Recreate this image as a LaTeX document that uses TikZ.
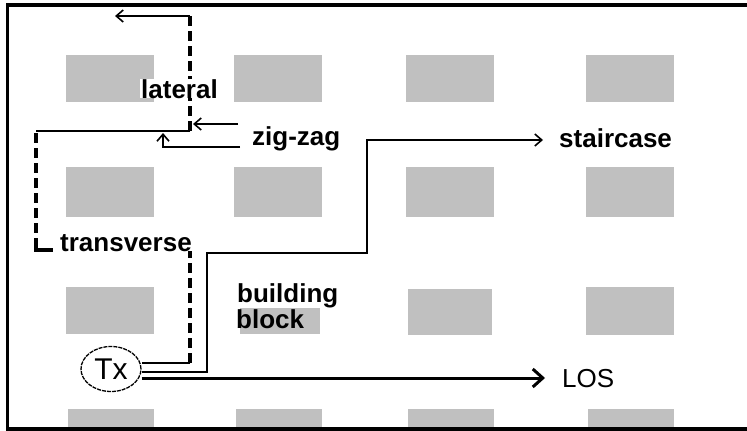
\documentclass[tikz,border=0pt]{standalone}
\usepackage{fontspec}
\setmainfont{Liberation Sans}
\usetikzlibrary{arrows.meta,shapes.geometric}
\definecolor{blockgray}{HTML}{C0C0C0}
\begin{document}
\begin{tikzpicture}[x=1pt,y=-1pt,
  blk/.style={fill=blockgray,draw=none},
  lbl/.style={font=\fontsize{26}{30}\selectfont\bfseries,inner sep=0pt,anchor=base west},
  lblw/.style={lbl,fill=white,inner xsep=1pt},
  thinpath/.style={line width=1.6pt},
  dashpath/.style={line width=4.5pt,dash pattern=on 10pt off 5pt},
  barb/.style={-{Straight Barb[length=7pt,width=12pt]}},
  bigbarb/.style={-{Straight Barb[length=10pt,width=18pt]}},
]
\useasboundingbox (0,0) rectangle (747,431);
\begin{scope}
\clip (0,0) rectangle (747,431);
% blocks
\foreach \xa/\xb in {66/154,234/322,406/494,586/674}{
  \fill[blockgray] (\xa,55) rectangle (\xb,102);
  \fill[blockgray] (\xa,167) rectangle (\xb,217);
}
\fill[blockgray] (66,287) rectangle (154,334);
\fill[blockgray] (240,287) rectangle (320,334);
\fill[blockgray] (408,289) rectangle (492,335);
\fill[blockgray] (586,287) rectangle (674,335);
\foreach \xa/\xb in {68/154,236/322,408/494,588/674}{
  \fill[blockgray] (\xa,409) rectangle (\xb,440);
}
% frame
\draw[line width=3.5pt] (770,5) -- (7.5,5) -- (7.5,429) -- (770,429);
\end{scope}

% coordinates
\coordinate (latTop) at (190,16);
\coordinate (latEnd) at (115,16);
\coordinate (latBot) at (190,131);
\coordinate (trTop) at (36,131);
\coordinate (trDash) at (36,133);
\coordinate (trDashEnd) at (36,240);
\coordinate (trCorner) at (36,250);
\coordinate (trFoot) at (53,250);
\coordinate (zzA) at (238,124);
\coordinate (zzAend) at (193,124);
\coordinate (zzB) at (240,147);
\coordinate (zzBbend) at (163,147);
\coordinate (zzBend) at (163,133);
\coordinate (tvTop) at (190,248);
\coordinate (tvBot) at (190,363);
\coordinate (st1) at (207,372);
\coordinate (st2) at (207,253);
\coordinate (st3) at (367,253);
\coordinate (st4) at (367,140);
\coordinate (stEnd) at (543,140);
\coordinate (losEnd) at (545,378);

% transmitter
\node[ellipse,draw,line width=1.3pt,dash pattern=on 4pt off 1pt,minimum width=60pt,minimum height=45pt,inner sep=0pt,
  font=\fontsize{30}{34}\selectfont] (Tx) at (111,369) {Tx};

% lateral
\draw[dashpath] (latTop) -- (latBot);
\draw[thinpath,barb] (latTop) -- (latEnd);
% zig-zag
\draw[thinpath,barb] (zzA) -- (zzAend);
\draw[thinpath,barb] (zzB) -- (zzBbend) -- (zzBend);
% transverse
\draw[thinpath] (latBot) -- (trTop);
\draw[dashpath] (trDash) -- (trDashEnd);
\draw[line width=4.5pt] (trDashEnd) -- (trCorner) -- (trFoot);
\draw[dashpath] (tvTop) -- (tvBot);
\draw[thinpath] (tvBot) -- (tvBot -| Tx.east);
% staircase
\draw[thinpath,barb] (st1 -| Tx.east) -- (st1) -- (st2) -- (st3) -- (st4) -- (stEnd);
% LOS
\draw[line width=3pt,bigbarb] (losEnd -| Tx.east) -- (losEnd);

% labels
\node[lblw] (lateral) at (140,98) {lateral};
\node[lbl] (zigzag) at (252,145) {zig-zag};
\node[lblw] (transverse) at (59,251) {transverse};
\node[lbl] (staircase) at (559,147) {staircase};
\node[lbl,font=\fontsize{26}{30}\selectfont] (los) at (562,387) {LOS};
\node[lblw] (building) at (236,302) {building};
\node[lbl] (block) at (236,328) {block};
\end{tikzpicture}
\end{document}
